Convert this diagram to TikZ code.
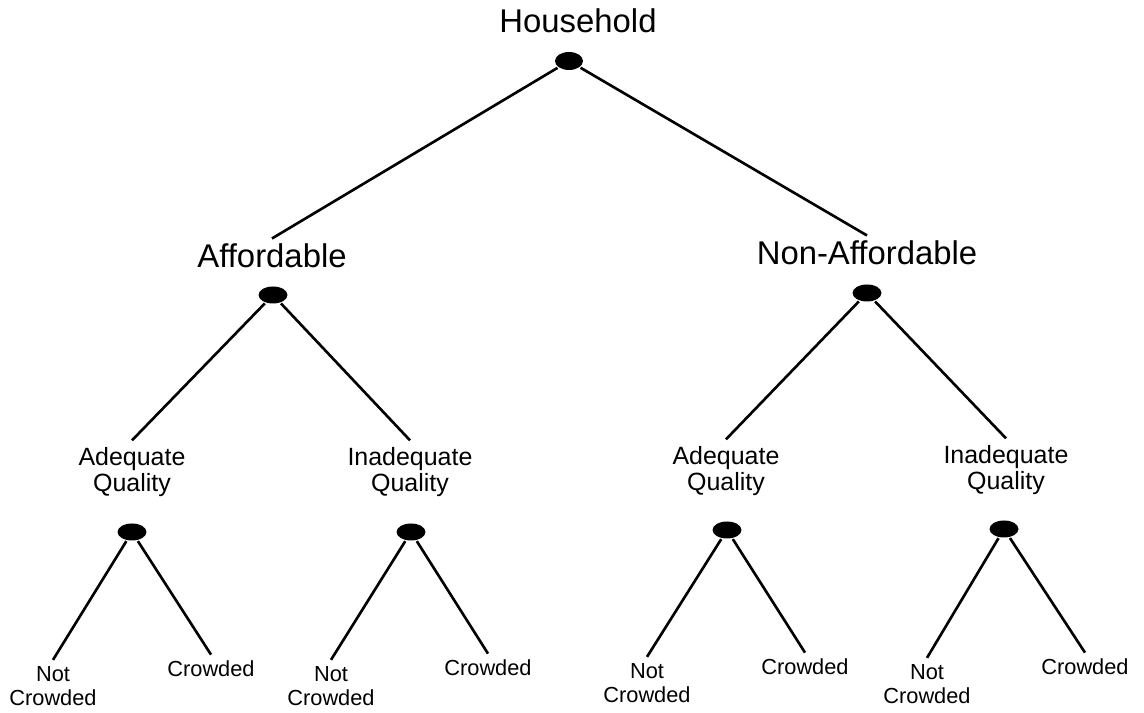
\documentclass[tikz,border=0pt]{standalone}
\usepackage{fontspec}
\setmainfont{Liberation Sans}
\usepackage{tikz}
\usetikzlibrary{shapes.geometric}

\begin{document}
\begin{tikzpicture}[line width=1.5pt,
  dot/.style={ellipse, fill=black, inner sep=0pt, minimum width=0.58cm, minimum height=0.34cm},
  bigtxt/.style={font=\fontsize{18.7}{20}\selectfont, inner sep=2.5pt},
  midtxt/.style={font=\fontsize{14.2}{15.3}\selectfont, align=center, inner sep=3pt},
  leaftxt/.style={font=\fontsize{12.4}{13.6}\selectfont, align=center, inner sep=3pt}]

\useasboundingbox (0,0) rectangle (22.88,14.26);

% 1. Root
\node[bigtxt, anchor=base] (hh) at (11.56,13.60) {Household};
\node[dot, minimum width=0.56cm, minimum height=0.36cm] (dhh) at (11.38,13.04) {};

% 2. Affordability level
\node[bigtxt, anchor=base] (aff) at (5.44,8.90) {Affordable};
\node[dot] (daff) at (5.46,8.36) {};
\node[bigtxt, anchor=base] (naff) at (17.34,8.96) {Non-Affordable};
\node[dot] (dnaff) at (17.34,8.40) {};

% 3. Quality level
\node[midtxt] (aq1) at (2.64,4.82) {Adequate\\Quality};
\node[dot] (daq1) at (2.64,3.62) {};
\node[midtxt] (iq1) at (8.20,4.82) {Inadequate\\Quality};
\node[dot] (diq1) at (8.22,3.62) {};
\node[midtxt] (aq2) at (14.52,4.84) {Adequate\\Quality};
\node[dot] (daq2) at (14.54,3.66) {};
\node[midtxt] (iq2) at (20.12,4.86) {Inadequate\\Quality};
\node[dot] (diq2) at (20.08,3.68) {};

% 4. Crowding level (leaves)
\node[leaftxt] (nc1) at (1.06,0.54) {Not\\Crowded};
\node[leaftxt, anchor=base] (cr1) at (4.22,0.72) {Crowded};
\node[leaftxt] (nc2) at (6.62,0.54) {Not\\Crowded};
\node[leaftxt, anchor=base] (cr2) at (9.76,0.74) {Crowded};
\node[leaftxt] (nc3) at (12.94,0.60) {Not\\Crowded};
\node[leaftxt, anchor=base] (cr3) at (16.10,0.76) {Crowded};
\node[leaftxt] (nc4) at (18.54,0.58) {Not\\Crowded};
\node[leaftxt, anchor=base] (cr4) at (21.70,0.76) {Crowded};

% 5. Branches
\draw (dhh) -- (aff.north);
\draw (dhh) -- (naff.north);
\draw (daff) -- (aq1.north);
\draw (daff) -- (iq1.north);
\draw (dnaff) -- (aq2.north);
\draw (dnaff) -- (iq2.north);
\draw (daq1) -- (nc1.north);
\draw (daq1) -- (cr1.north);
\draw (diq1) -- (nc2.north);
\draw (diq1) -- (cr2.north);
\draw (daq2) -- (nc3.north);
\draw (daq2) -- (cr3.north);
\draw (diq2) -- (nc4.north);
\draw (diq2) -- (cr4.north);

\end{tikzpicture}
\end{document}
